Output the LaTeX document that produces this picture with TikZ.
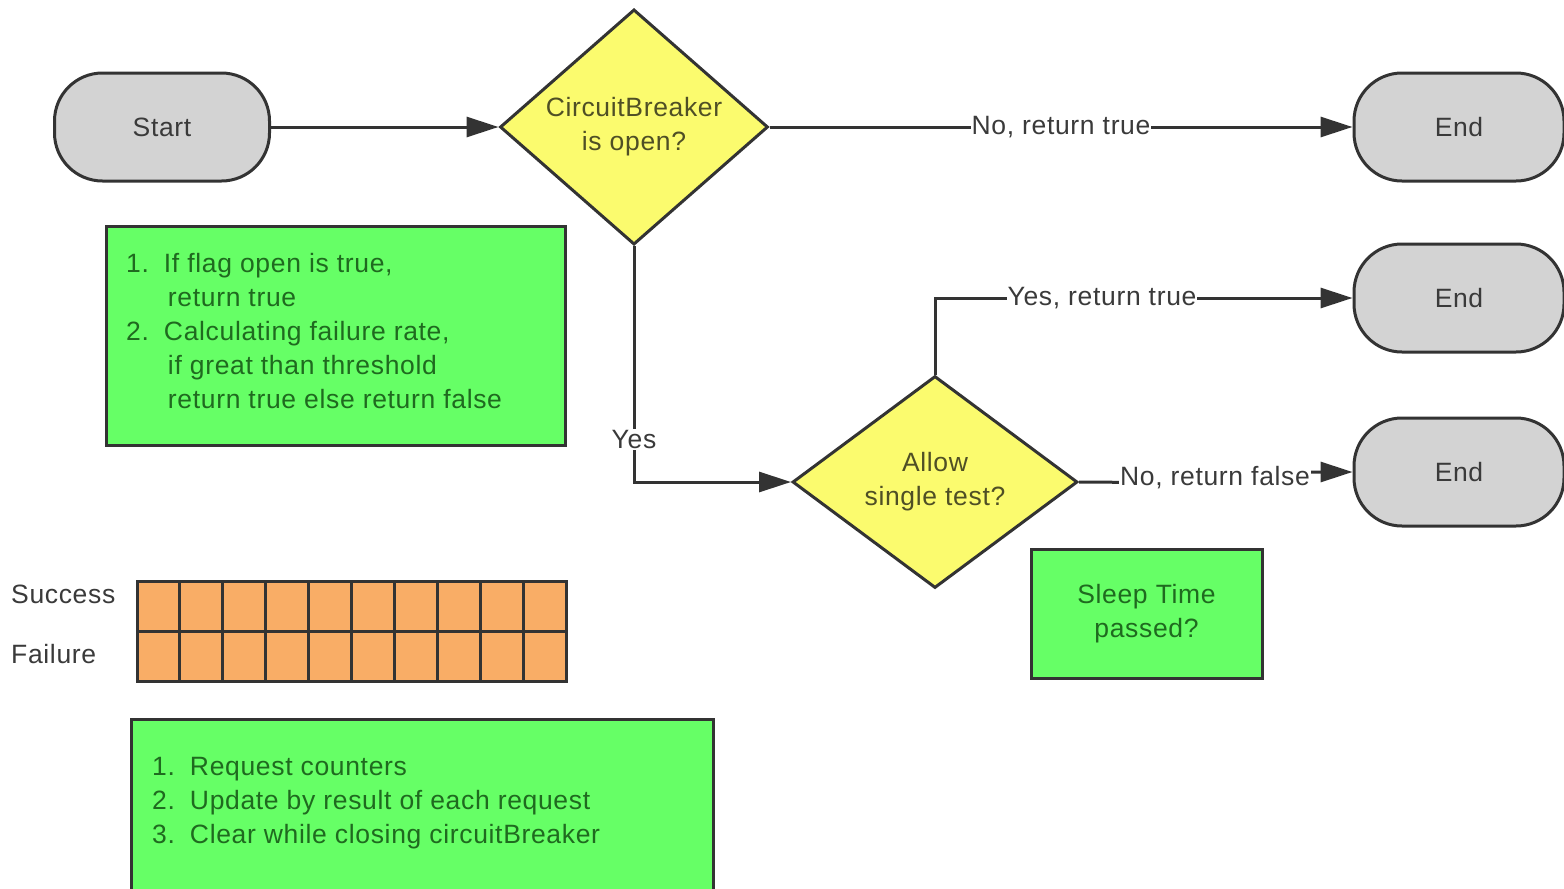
\documentclass[tikz,border=0pt]{standalone}
\usepackage{fontspec}
\setmainfont{Liberation Sans}[LetterSpace=2.5]
\usetikzlibrary{arrows.meta,shapes.geometric}
\definecolor{linec}{HTML}{333333}
\definecolor{grayfill}{HTML}{D3D3D3}
\definecolor{yell}{HTML}{FBFB6E}
\definecolor{grn}{HTML}{66FF66}
\definecolor{org}{HTML}{F9AD66}
\definecolor{txt}{HTML}{3A3A3A}
\definecolor{gtxt}{HTML}{1F6A1F}
\definecolor{ytxt}{HTML}{4F4F25}
\begin{document}
\begin{tikzpicture}[x=1pt,y=-1pt,
 base/.style={font=\fontsize{26.5}{34}\selectfont},
 term/.style={base, draw=linec, line width=3pt, fill=grayfill, rounded corners=48pt, minimum width=210pt, minimum height=108pt, text=txt, inner sep=0pt},
 decision/.style={base, diamond, draw=linec, line width=3pt, fill=yell, text=ytxt, align=center, inner sep=0pt},
 note/.style={base, draw=linec, line width=3pt, fill=grn, text=gtxt},
 conn/.style={draw=linec, line width=3pt, -{Triangle[length=32pt,width=20pt]}},
 lbl/.style={base, fill=white, text=txt, inner sep=1pt},
 cell/.style={draw=linec, line width=3pt, fill=org},
 listtxt/.style={base, text=gtxt, anchor=west, inner sep=0pt},
]
\useasboundingbox (0,0) rectangle (1564,889);
\clip (0,0) rectangle (1564,889);
\fill[white] (0,0) rectangle (1564,889);

% terminals
\node[term, minimum width=215pt] (start) at (162,127) {Start};
\node[term] (e1) at (1459,127) {End};
\node[term] (e2) at (1459,298) {End};
\node[term] (e3) at (1459,472) {End};

% decisions
\node[decision, minimum width=268pt, minimum height=229pt] (d1) at (634,127) {CircuitBreaker\\is open?};
\node[decision, minimum width=285pt, minimum height=212pt] (d2) at (935,482) {Allow\\single test?};

% notes
\node[note, anchor=north west, minimum width=459pt, minimum height=219pt] (n1) at (105,225) {};
\node[listtxt] (n1t) at (126,334) {\begin{tabular}{@{}l@{\hspace{15pt}}l@{}}
1. & If flag open is true,\\
 & \hspace{4pt}return true\\
2. & Calculating failure rate,\\
 & \hspace{4pt}if great than threshold\\
 & \hspace{4pt}return true else return false
\end{tabular}};

\node[note, minimum width=231pt, minimum height=129pt, align=center] (sleep) at (1146.5,613.5) {Sleep Time\\passed?};

\node[note, anchor=north west, minimum width=582pt, minimum height=200pt] (n3) at (130,718) {};
\node[listtxt] (n3t) at (152,803) {\begin{tabular}{@{}l@{\hspace{15pt}}l@{}}
1. & Request counters\\
2. & Update by result of each request\\
3. & Clear while closing circuitBreaker
\end{tabular}};

% counters grid
\draw[cell] (137,581) rectangle (566,681);
\foreach \i in {1,...,9} {\draw[linec, line width=3pt] ({137+\i*42.9},581) -- ({137+\i*42.9},681);}
\draw[linec, line width=3pt] (137,631) -- (566,631);
\node[base, text=txt, anchor=west, inner sep=0pt] (succ) at (11,594) {Success};
\node[base, text=txt, anchor=west, inner sep=0pt] (fail) at (11,654) {Failure};

% connectors
\draw[conn] (start) -- (d1);
\draw[conn] (d1) -- node[lbl]{No, return true} (e1);
\draw[conn] (d1.south) |- node[lbl, pos=0.41]{Yes} (d2.west);
\draw[conn] (d2.north) |- node[lbl, pos=0.70]{Yes, return true} (e2.west);
\coordinate (j1) at (1215,483);
\coordinate (j2) at (1215,472);
\draw[conn] (d2.east) -- (j1) -- node[lbl]{No, return false} (j2) -- (e3.west);
\end{tikzpicture}
\end{document}
